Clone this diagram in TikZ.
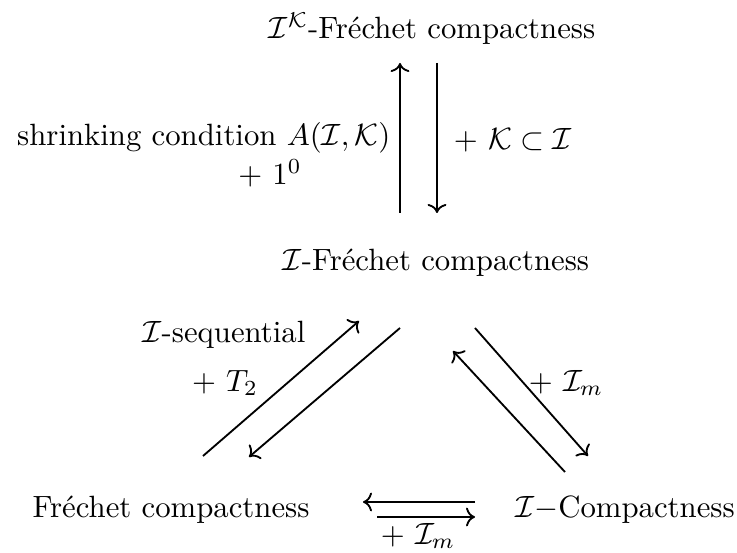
\documentclass[tikz,border=0pt]{standalone}
\usepackage{amsmath,amssymb}
\usepackage{xcolor}
\usepackage{tikz}
\usetikzlibrary{arrows.meta,calc}
\tikzset{
  propnode/.style={inner sep=0pt,anchor=center},
  condlabel/.style={inner sep=0pt,anchor=center},
  implarrow/.style={-{To},line width=0.6pt,draw=black}
}

\begin{document}
\begin{tikzpicture}[x=0.325pt,y=-0.325pt]
\useasboundingbox (0,0) rectangle (737,553);
% the four notions
\node[propnode] (top) at (432,29) {$\mathcal{I}^{\mathcal{K}}$-Fréchet compactness};
\node[propnode] (mid) at (436,263) {$\mathcal{I}$-Fréchet compactness};
\node[propnode] (fc) at (171,510) {Fréchet compactness};
\node[propnode] (ic) at (625,510) {$\mathcal{I}-$Compactness};
% vertical pair
\draw[implarrow] ($(mid)+(-36,-50)$)--($(top)+(-32,34)$);
\draw[implarrow] ($(top)+(5,34)$)--($(mid)+(1,-50)$);
\node[condlabel,anchor=east] (shr) at (391,138) {shrinking condition $A(\mathcal{I},\mathcal{K})$};
\node[condlabel] (one) at (270,173) {$+\ 1^0$};
\node[condlabel] (sub) at (513,140) {$+\ \mathcal{K}\subset\mathcal{I}$};
% left pair
\draw[implarrow] ($(fc)+(32,-54)$)--($(mid)+(-77,58)$);
\draw[implarrow] ($(mid)+(-36,65)$)--($(fc)+(78,-53)$);
\node[condlabel] (seq) at (224,335) {$\mathcal{I}$-sequential};
\node[condlabel] (ttwo) at (225,383) {$+\ T_2$};
% right pair
\draw[implarrow] ($(mid)+(39,65)$)--($(ic)+(-37,-54)$);
\draw[implarrow] ($(ic)+(-60,-38)$)--($(mid)+(17,88)$);
\node[condlabel] (imr) at (566,383) {$+\ \mathcal{I}_m$};
% bottom pair
\draw[implarrow] ($(ic)+(-150,-8)$)--($(fc)+(192,-8)$);
\draw[implarrow] ($(fc)+(206,7)$)--($(ic)+(-150,7)$);
\node[condlabel] (imb) at (418,536) {$+\ \mathcal{I}_m$};
\end{tikzpicture}
\end{document}
